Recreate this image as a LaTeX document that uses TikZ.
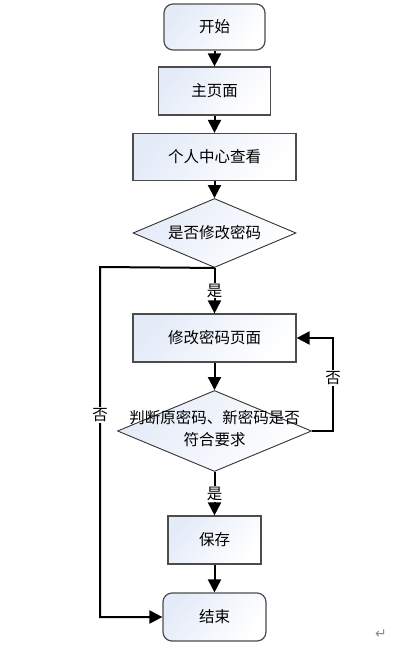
\documentclass[tikz,border=0pt]{standalone}
\usepackage{fontspec}
\newfontfamily\cjk{Noto Sans CJK SC}
\newfontfamily\symfont{DejaVu Sans}
\usetikzlibrary{arrows.meta,shapes.geometric,positioning}
\definecolor{boxfill}{RGB}{228,235,248}

\begin{document}
\begin{tikzpicture}[x=1pt,y=-1pt,
every node/.style={font=\cjk\fontsize{15.5}{22}\selectfont, text=black},
box/.style={draw=black!70, line width=1.2pt, top color=boxfill, bottom color=white, shading angle=50, minimum height=48pt},
term/.style={box, rounded corners=9pt},
decision/.style={diamond, draw=black!80, line width=0.9pt, top color=boxfill, bottom color=white, shading angle=50, inner sep=0pt},
flow/.style={line width=2pt, -{Triangle[length=13pt,width=13pt]}},
tag/.style={fill=white, inner sep=1pt}]
\useasboundingbox (0,0) rectangle (410,648);
% boxes
\node[term, minimum width=101pt, minimum height=46pt] (start) at (214.5,27) {开始};
\node[box, minimum width=112pt] (home) at (214.5,91) {主页面};
\node[box, minimum width=163pt, minimum height=47pt] (center) at (214.5,157) {个人中心查看};
\node[decision, minimum width=163pt, minimum height=69pt, aspect=2.4] (q1) at (214.5,233) {是否修改密码};
\node[box, minimum width=163pt] (page) at (214.5,338) {修改密码页面};
\node[decision, minimum width=194pt, minimum height=81pt, aspect=2.4] (q2) at (214.5,431) {};
\node[align=center] (q2text) at (214.5,429) {判断原密码、新密码是否\\符合要求};
\node[box, minimum width=93pt] (save) at (214.5,540) {保存};
\node[term, minimum width=103pt] (end) at (214.5,617) {结束};
\coordinate (c1) at (100,267);
\coordinate (c2) at (333,431);
% arrows
\draw[flow] (start) -- (home);
\draw[flow] (home) -- (center);
\draw[flow] (center) -- (q1);
\draw[flow] (q1.south) -- node[tag] {是} (page.north);
\draw[flow] (page) -- (q2);
\draw[flow] (q2.south) -- node[tag] {是} (save.north);
\draw[flow] (save) -- (end);
\draw[flow] (q2.east) -- (c2) |- (page.east);
\draw[flow] (q1.south) -- (c1) |- (end.west);
\node[tag] (no2) at (333,378) {否};
\node[tag] (no1) at (100,415) {否};
\node[font=\symfont\fontsize{14}{16}\selectfont, text=black!45] (ret) at (381,634) {↵};
\end{tikzpicture}
\end{document}
